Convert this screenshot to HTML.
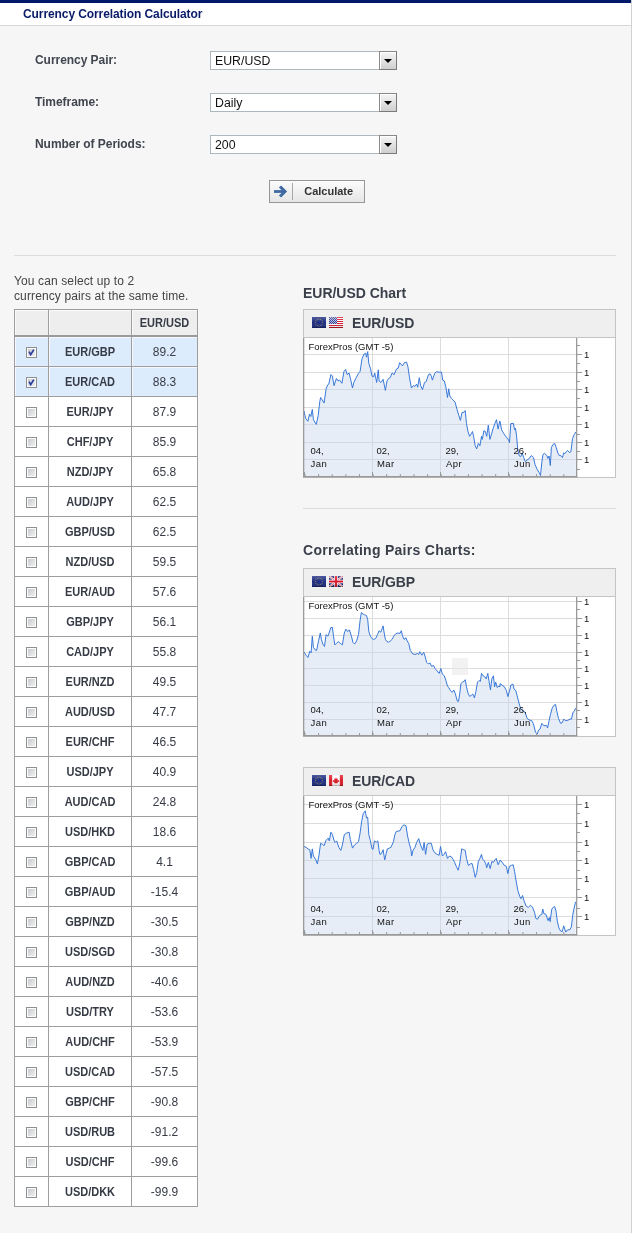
<!DOCTYPE html>
<html><head><meta charset="utf-8"><title>Currency Correlation Calculator</title>
<style>
html,body{margin:0;padding:0}
body{width:632px;height:1233px;background:#f6f6f6;position:relative;overflow:hidden;font-family:"Liberation Sans",Arial,sans-serif;font-size:12px;color:#333}
.abs{position:absolute}
.topbar{position:absolute;left:0;top:0;width:632px;height:3px;background:#02186a}
.hdr{position:absolute;left:0;top:3px;width:632px;height:22px;background:#fff;border-bottom:1px solid #d6d6d6}
.title{position:absolute;left:23px;top:7px;font-weight:bold;font-size:12px;line-height:14px;color:#0a1c68;white-space:nowrap;letter-spacing:-0.09px}
.lbl{position:absolute;left:35px;font-weight:bold;font-size:12px;line-height:14px;color:#40454f;white-space:nowrap;letter-spacing:-0.05px}
.sel{position:absolute;left:210px;width:185px;height:17px;border:1px solid #abb8be;background:#fff;font-size:12.3px;line-height:16px;color:#111}
.sel span{position:absolute;left:4px;top:0.5px}
.sel i{position:absolute;right:-1px;top:-1px;width:16px;height:17px;border:1px solid #7a7a7a;border-top-color:#8a8a8a;border-left-color:#8a8a8a;background:linear-gradient(#f6f6f6,#cfcfcf);box-shadow:inset 1px 1px 0 #fff}
.sel i:after{content:"";position:absolute;left:4.1px;top:7.3px;border:4.1px solid transparent;border-top:4.8px solid #000;border-bottom:0}
.btn{position:absolute;left:269px;top:180px;width:94px;height:21px;border:1px solid #979797;background:linear-gradient(#fbfbfb,#e6e6e6);}
.btn b{position:absolute;left:34.2px;top:4px;font-size:11px;line-height:13px;color:#333;white-space:nowrap}
.btn u{position:absolute;left:22px;top:2px;width:1px;height:17px;background:#a8a8a8}
.hr{position:absolute;height:1px;background:#dcdcdc}
.intro{position:absolute;left:14px;top:274px;font-size:12px;line-height:14.5px;color:#444;white-space:nowrap;letter-spacing:0.12px}
.h2{position:absolute;left:303px;font-weight:bold;font-size:14px;line-height:16px;color:#3a3f4a;white-space:nowrap}
table.t{position:absolute;left:14px;top:309px;border-collapse:collapse;table-layout:fixed;width:184px}
table.t td{border:1px solid #9e9e9e;height:29px;padding:0;text-align:center;vertical-align:middle;background:#fff;font-size:12px;color:#363b45;box-shadow:inset 1px 1px 0 rgba(255,255,255,.7)}
table.t tr.h td{height:25px;background:#eee;border-bottom:2px solid #9a9a9a;font-weight:bold;font-size:11px}
table.t td.p{font-weight:bold;font-size:11px}
table.t tr.s td{background:#ddecfd}
.cb{display:inline-block;width:9px;height:9px;border:1px solid #8e8f8f;background:linear-gradient(135deg,#c2c6cc,#f4f4f4);box-shadow:inset 0 0 0 1px #fcfcfc;position:relative;vertical-align:middle;top:0px;left:0px}
.cb svg{position:absolute;left:0;top:0}
table.t td span.x{display:inline-block;transform:scaleY(1.1);position:relative;top:0.6px}
.cbox{position:absolute;left:303px;width:311px;height:167px;border:1px solid #c4c4c4;background:#fff}
.chead{height:27px;background:#efefef;border-bottom:1px solid #c4c4c4}
.ctitle{position:absolute;left:352px;letter-spacing:-0.12px;font-weight:bold;font-size:14px;line-height:16px;color:#3a3f4a;white-space:nowrap}
.ct{font-family:"Liberation Sans",Arial,sans-serif;font-size:9.5px;fill:#111}
</style></head><body>
<svg width="0" height="0" style="position:absolute"><defs><linearGradient id="sh" x1="0" y1="0" x2="0" y2="1"><stop offset="0" stop-color="#fff" stop-opacity="0.22"/><stop offset="0.5" stop-color="#fff" stop-opacity="0.02"/><stop offset="1" stop-color="#000" stop-opacity="0.18"/></linearGradient></defs></svg>
<div class="topbar"></div><div class="hdr"></div>
<div class="title">Currency Correlation Calculator</div>
<div class="lbl" style="top:53px">Currency Pair:</div>
<div class="lbl" style="top:95px">Timeframe:</div>
<div class="lbl" style="top:137px">Number of Periods:</div>
<div class="sel" style="top:51px"><span>EUR/USD</span><i></i></div>
<div class="sel" style="top:93px"><span>Daily</span><i></i></div>
<div class="sel" style="top:135px"><span>200</span><i></i></div>
<div class="btn"><svg class="abs" style="left:3px;top:3px" width="16" height="16" viewBox="0 0 16 16"><path d="M1 7.5H11" fill="none" stroke="#3f6aa3" stroke-width="2.8"/><path d="M7 2.5L12 7.5L7 12.5" fill="none" stroke="#3f6aa3" stroke-width="3"/></svg><u></u><b>Calculate</b></div>
<div class="hr" style="left:14px;top:255px;width:602px"></div>
<div class="abs" style="left:631px;top:0;width:1px;height:1233px;background:#d2d2d2"></div>
<div class="intro">You can select up to 2<br>currency pairs at the same time.</div>
<div class="h2" style="top:285px;letter-spacing:-0.03px">EUR/USD Chart</div>
<div class="hr" style="left:303px;top:508px;width:313px"></div>
<div class="h2" style="top:542px;letter-spacing:0.28px">Correlating Pairs Charts:</div>

<table class="t"><colgroup><col style="width:34px"><col style="width:83px"><col style="width:66px"></colgroup>
<tr class="h"><td></td><td></td><td><span class="x">EUR/USD</span></td></tr>
<tr class=s><td><span class="cb"><svg width="9" height="9" viewBox="0 0 9 9"><path d="M2 3.6L3.7 6.6L6.8 1.6" fill="none" stroke="#2b3c9c" stroke-width="1.7"/></svg></span></td><td class="p"><span class="x">EUR/GBP</span></td><td><span class="x">89.2</span></td></tr>
<tr class=s><td><span class="cb"><svg width="9" height="9" viewBox="0 0 9 9"><path d="M2 3.6L3.7 6.6L6.8 1.6" fill="none" stroke="#2b3c9c" stroke-width="1.7"/></svg></span></td><td class="p"><span class="x">EUR/CAD</span></td><td><span class="x">88.3</span></td></tr>
<tr><td><span class="cb"></span></td><td class="p"><span class="x">EUR/JPY</span></td><td><span class="x">87.9</span></td></tr>
<tr><td><span class="cb"></span></td><td class="p"><span class="x">CHF/JPY</span></td><td><span class="x">85.9</span></td></tr>
<tr><td><span class="cb"></span></td><td class="p"><span class="x">NZD/JPY</span></td><td><span class="x">65.8</span></td></tr>
<tr><td><span class="cb"></span></td><td class="p"><span class="x">AUD/JPY</span></td><td><span class="x">62.5</span></td></tr>
<tr><td><span class="cb"></span></td><td class="p"><span class="x">GBP/USD</span></td><td><span class="x">62.5</span></td></tr>
<tr><td><span class="cb"></span></td><td class="p"><span class="x">NZD/USD</span></td><td><span class="x">59.5</span></td></tr>
<tr><td><span class="cb"></span></td><td class="p"><span class="x">EUR/AUD</span></td><td><span class="x">57.6</span></td></tr>
<tr><td><span class="cb"></span></td><td class="p"><span class="x">GBP/JPY</span></td><td><span class="x">56.1</span></td></tr>
<tr><td><span class="cb"></span></td><td class="p"><span class="x">CAD/JPY</span></td><td><span class="x">55.8</span></td></tr>
<tr><td><span class="cb"></span></td><td class="p"><span class="x">EUR/NZD</span></td><td><span class="x">49.5</span></td></tr>
<tr><td><span class="cb"></span></td><td class="p"><span class="x">AUD/USD</span></td><td><span class="x">47.7</span></td></tr>
<tr><td><span class="cb"></span></td><td class="p"><span class="x">EUR/CHF</span></td><td><span class="x">46.5</span></td></tr>
<tr><td><span class="cb"></span></td><td class="p"><span class="x">USD/JPY</span></td><td><span class="x">40.9</span></td></tr>
<tr><td><span class="cb"></span></td><td class="p"><span class="x">AUD/CAD</span></td><td><span class="x">24.8</span></td></tr>
<tr><td><span class="cb"></span></td><td class="p"><span class="x">USD/HKD</span></td><td><span class="x">18.6</span></td></tr>
<tr><td><span class="cb"></span></td><td class="p"><span class="x">GBP/CAD</span></td><td><span class="x">4.1</span></td></tr>
<tr><td><span class="cb"></span></td><td class="p"><span class="x">GBP/AUD</span></td><td><span class="x">-15.4</span></td></tr>
<tr><td><span class="cb"></span></td><td class="p"><span class="x">GBP/NZD</span></td><td><span class="x">-30.5</span></td></tr>
<tr><td><span class="cb"></span></td><td class="p"><span class="x">USD/SGD</span></td><td><span class="x">-30.8</span></td></tr>
<tr><td><span class="cb"></span></td><td class="p"><span class="x">AUD/NZD</span></td><td><span class="x">-40.6</span></td></tr>
<tr><td><span class="cb"></span></td><td class="p"><span class="x">USD/TRY</span></td><td><span class="x">-53.6</span></td></tr>
<tr><td><span class="cb"></span></td><td class="p"><span class="x">AUD/CHF</span></td><td><span class="x">-53.9</span></td></tr>
<tr><td><span class="cb"></span></td><td class="p"><span class="x">USD/CAD</span></td><td><span class="x">-57.5</span></td></tr>
<tr><td><span class="cb"></span></td><td class="p"><span class="x">GBP/CHF</span></td><td><span class="x">-90.8</span></td></tr>
<tr><td><span class="cb"></span></td><td class="p"><span class="x">USD/RUB</span></td><td><span class="x">-91.2</span></td></tr>
<tr><td><span class="cb"></span></td><td class="p"><span class="x">USD/CHF</span></td><td><span class="x">-99.6</span></td></tr>
<tr><td><span class="cb"></span></td><td class="p"><span class="x">USD/DKK</span></td><td><span class="x">-99.9</span></td></tr>
</table>
<div class="cbox" style="top:309px"><div class="chead"></div></div>
<svg class="abs" style="left:312px;top:317px" width="14" height="11" viewBox="0 0 14 11"><rect width="14" height="11" fill="#1c2b82"/><g fill="#cdb93c"><circle cx="7.00" cy="2.00" r="0.48"/><circle cx="8.75" cy="2.47" r="0.48"/><circle cx="10.03" cy="3.75" r="0.48"/><circle cx="10.50" cy="5.50" r="0.48"/><circle cx="10.03" cy="7.25" r="0.48"/><circle cx="8.75" cy="8.53" r="0.48"/><circle cx="7.00" cy="9.00" r="0.48"/><circle cx="5.25" cy="8.53" r="0.48"/><circle cx="3.97" cy="7.25" r="0.48"/><circle cx="3.50" cy="5.50" r="0.48"/><circle cx="3.97" cy="3.75" r="0.48"/><circle cx="5.25" cy="2.47" r="0.48"/></g><rect width="14" height="11" fill="url(#sh)"/><rect y="10.3" width="14" height="0.7" fill="#000" fill-opacity="0.22"/></svg>
<svg class="abs" style="left:329px;top:317px" width="14" height="11" viewBox="0 0 14 11"><rect width="14" height="11" fill="#fff"/><g fill="#d6182c"><rect y="0" width="14" height="1"/><rect y="2" width="14" height="1"/><rect y="4" width="14" height="1"/><rect y="6" width="14" height="1"/><rect y="8" width="14" height="1"/><rect y="10" width="14" height="1"/></g><rect width="8" height="7" fill="#2c3a8c"/><g fill="#c9cfee" fill-opacity="0.85"><rect x="1" y="0" width="1" height="1"/><rect x="3" y="0" width="1" height="1"/><rect x="5" y="0" width="1" height="1"/><rect x="7" y="0" width="1" height="1"/><rect x="0" y="1" width="1" height="1"/><rect x="2" y="1" width="1" height="1"/><rect x="4" y="1" width="1" height="1"/><rect x="6" y="1" width="1" height="1"/><rect x="1" y="2" width="1" height="1"/><rect x="3" y="2" width="1" height="1"/><rect x="5" y="2" width="1" height="1"/><rect x="7" y="2" width="1" height="1"/><rect x="0" y="3" width="1" height="1"/><rect x="2" y="3" width="1" height="1"/><rect x="4" y="3" width="1" height="1"/><rect x="6" y="3" width="1" height="1"/><rect x="1" y="4" width="1" height="1"/><rect x="3" y="4" width="1" height="1"/><rect x="5" y="4" width="1" height="1"/><rect x="7" y="4" width="1" height="1"/><rect x="0" y="5" width="1" height="1"/><rect x="2" y="5" width="1" height="1"/><rect x="4" y="5" width="1" height="1"/><rect x="6" y="5" width="1" height="1"/><rect x="1" y="6" width="1" height="1"/><rect x="3" y="6" width="1" height="1"/><rect x="5" y="6" width="1" height="1"/><rect x="7" y="6" width="1" height="1"/></g><rect width="14" height="11" fill="url(#sh)"/><rect y="10.3" width="14" height="0.7" fill="#000" fill-opacity="0.22"/></svg>
<div class="ctitle" style="top:315px">EUR/USD</div>
<svg class="abs" style="left:303px;top:338px" width="313" height="141" viewBox="303 338 313 141"><rect x="304" y="354" width="272" height="1" fill="#dcdcdc"/><rect x="304" y="372" width="272" height="1" fill="#dcdcdc"/><rect x="304" y="389" width="272" height="1" fill="#dcdcdc"/><rect x="304" y="407" width="272" height="1" fill="#dcdcdc"/><rect x="304" y="424" width="272" height="1" fill="#dcdcdc"/><rect x="304" y="442" width="272" height="1" fill="#dcdcdc"/><rect x="304" y="459" width="272" height="1" fill="#dcdcdc"/><rect x="372" y="338" width="1" height="138" fill="#dcdcdc"/><rect x="440" y="338" width="1" height="138" fill="#dcdcdc"/><rect x="508" y="338" width="1" height="138" fill="#dcdcdc"/><path d="M304.0 410.9 L305.5 418.1 L307.9 421.2 L309.5 414.1 L310.8 416.5 L312.3 409.4 L313.4 419.7 L316.3 424.4 L318.2 415.7 L319.8 401.5 L320.6 397.5 L322.2 399.9 L324.1 403.0 L326.1 388.8 L327.7 384.8 L328.8 384.1 L330.9 374.6 L332.4 376.1 L334.0 385.6 L336.4 378.5 L338.0 380.9 L339.6 380.1 L341.9 383.3 L344.0 371.4 L345.6 369.5 L347.2 374.6 L349.1 373.0 L350.6 379.3 L352.5 388.0 L353.8 382.5 L356.2 377.7 L358.2 373.8 L360.1 371.4 L362.0 358.7 L364.1 354.0 L365.7 353.2 L366.5 357.2 L367.7 351.6 L368.8 363.5 L370.4 368.2 L372.0 376.1 L373.6 376.9 L374.7 373.0 L376.7 382.5 L378.3 369.8 L379.1 380.9 L381.0 382.5 L383.1 379.3 L385.4 390.4 L387.0 380.9 L388.6 378.5 L390.2 377.7 L392.1 373.0 L394.1 374.6 L396.5 369.0 L398.1 368.2 L399.7 362.7 L402.4 365.9 L404.4 362.7 L406.6 362.2 L407.9 366.6 L409.5 377.7 L411.4 388.0 L413.4 385.6 L415.0 386.4 L416.6 384.1 L417.7 387.2 L419.3 377.7 L420.6 385.6 L422.5 389.6 L424.5 382.5 L426.1 381.7 L428.5 374.6 L430.1 373.8 L431.3 376.1 L432.4 380.1 L434.5 373.8 L436.4 371.7 L438.8 372.2 L441.5 372.2 L442.7 380.1 L444.3 380.9 L445.9 387.2 L447.5 397.5 L448.7 388.8 L449.8 395.9 L451.4 398.3 L453.0 399.9 L455.1 402.2 L457.0 409.4 L458.9 415.7 L460.4 420.4 L462.0 412.5 L464.1 412.2 L465.2 410.6 L466.5 423.6 L468.0 431.5 L469.6 436.3 L471.2 433.9 L472.5 431.5 L473.6 436.3 L475.2 445.8 L476.7 448.9 L478.3 443.4 L479.9 445.8 L481.5 436.3 L482.3 439.4 L483.9 430.7 L485.4 431.5 L486.7 436.3 L488.3 425.2 L489.9 439.4 L491.8 433.1 L493.4 427.6 L494.9 423.6 L496.5 419.7 L498.1 429.1 L499.7 421.2 L500.0 421.2 L501.6 429.9 L504.0 433.9 L506.3 437.1 L508.7 440.2 L509.5 442.6 L510.8 423.6 L513.4 423.3 L514.6 429.9 L515.5 428.4 L516.6 436.3 L517.7 448.9 L519.3 456.0 L520.6 456.8 L522.2 452.9 L523.7 457.6 L525.3 461.6 L527.2 460.0 L529.3 458.4 L531.3 455.6 L533.5 457.6 L535.1 464.7 L537.2 469.5 L539.2 472.7 L540.5 475.5 L541.9 461.6 L543.0 454.5 L544.6 453.4 L546.7 455.3 L547.9 458.4 L549.1 456.0 L550.3 465.5 L551.4 447.3 L553.0 444.5 L554.6 443.4 L556.2 447.3 L557.8 452.9 L559.3 455.6 L560.9 455.6 L562.5 457.6 L563.6 452.9 L564.9 453.7 L566.5 451.3 L567.7 450.5 L569.3 452.4 L570.9 451.8 L572.5 438.6 L574.1 434.7 L575.9 431.8 L575.9 476 L304.0 476 Z" fill="#c5d5ea" fill-opacity="0.42"/><path d="M304.0 410.9 L305.5 418.1 L307.9 421.2 L309.5 414.1 L310.8 416.5 L312.3 409.4 L313.4 419.7 L316.3 424.4 L318.2 415.7 L319.8 401.5 L320.6 397.5 L322.2 399.9 L324.1 403.0 L326.1 388.8 L327.7 384.8 L328.8 384.1 L330.9 374.6 L332.4 376.1 L334.0 385.6 L336.4 378.5 L338.0 380.9 L339.6 380.1 L341.9 383.3 L344.0 371.4 L345.6 369.5 L347.2 374.6 L349.1 373.0 L350.6 379.3 L352.5 388.0 L353.8 382.5 L356.2 377.7 L358.2 373.8 L360.1 371.4 L362.0 358.7 L364.1 354.0 L365.7 353.2 L366.5 357.2 L367.7 351.6 L368.8 363.5 L370.4 368.2 L372.0 376.1 L373.6 376.9 L374.7 373.0 L376.7 382.5 L378.3 369.8 L379.1 380.9 L381.0 382.5 L383.1 379.3 L385.4 390.4 L387.0 380.9 L388.6 378.5 L390.2 377.7 L392.1 373.0 L394.1 374.6 L396.5 369.0 L398.1 368.2 L399.7 362.7 L402.4 365.9 L404.4 362.7 L406.6 362.2 L407.9 366.6 L409.5 377.7 L411.4 388.0 L413.4 385.6 L415.0 386.4 L416.6 384.1 L417.7 387.2 L419.3 377.7 L420.6 385.6 L422.5 389.6 L424.5 382.5 L426.1 381.7 L428.5 374.6 L430.1 373.8 L431.3 376.1 L432.4 380.1 L434.5 373.8 L436.4 371.7 L438.8 372.2 L441.5 372.2 L442.7 380.1 L444.3 380.9 L445.9 387.2 L447.5 397.5 L448.7 388.8 L449.8 395.9 L451.4 398.3 L453.0 399.9 L455.1 402.2 L457.0 409.4 L458.9 415.7 L460.4 420.4 L462.0 412.5 L464.1 412.2 L465.2 410.6 L466.5 423.6 L468.0 431.5 L469.6 436.3 L471.2 433.9 L472.5 431.5 L473.6 436.3 L475.2 445.8 L476.7 448.9 L478.3 443.4 L479.9 445.8 L481.5 436.3 L482.3 439.4 L483.9 430.7 L485.4 431.5 L486.7 436.3 L488.3 425.2 L489.9 439.4 L491.8 433.1 L493.4 427.6 L494.9 423.6 L496.5 419.7 L498.1 429.1 L499.7 421.2 L500.0 421.2 L501.6 429.9 L504.0 433.9 L506.3 437.1 L508.7 440.2 L509.5 442.6 L510.8 423.6 L513.4 423.3 L514.6 429.9 L515.5 428.4 L516.6 436.3 L517.7 448.9 L519.3 456.0 L520.6 456.8 L522.2 452.9 L523.7 457.6 L525.3 461.6 L527.2 460.0 L529.3 458.4 L531.3 455.6 L533.5 457.6 L535.1 464.7 L537.2 469.5 L539.2 472.7 L540.5 475.5 L541.9 461.6 L543.0 454.5 L544.6 453.4 L546.7 455.3 L547.9 458.4 L549.1 456.0 L550.3 465.5 L551.4 447.3 L553.0 444.5 L554.6 443.4 L556.2 447.3 L557.8 452.9 L559.3 455.6 L560.9 455.6 L562.5 457.6 L563.6 452.9 L564.9 453.7 L566.5 451.3 L567.7 450.5 L569.3 452.4 L570.9 451.8 L572.5 438.6 L574.1 434.7 L575.9 431.8" fill="none" stroke="#2f72d6" stroke-width="0.95" stroke-linejoin="round"/><rect x="576" y="338" width="1.3" height="139" fill="#9a9a9a"/><rect x="303" y="338" width="1.3" height="139" fill="#9a9a9a"/><rect x="303" y="476" width="274.3" height="1.5" fill="#9a9a9a"/><rect x="304.5" y="474" width="1" height="2" fill="#9a9a9a"/><rect x="318.1" y="474" width="1" height="2" fill="#9a9a9a"/><rect x="331.7" y="474" width="1" height="2" fill="#9a9a9a"/><rect x="345.4" y="474" width="1" height="2" fill="#9a9a9a"/><rect x="359.0" y="474" width="1" height="2" fill="#9a9a9a"/><rect x="372.6" y="474" width="1" height="2" fill="#9a9a9a"/><rect x="386.2" y="474" width="1" height="2" fill="#9a9a9a"/><rect x="399.8" y="474" width="1" height="2" fill="#9a9a9a"/><rect x="413.5" y="474" width="1" height="2" fill="#9a9a9a"/><rect x="427.1" y="474" width="1" height="2" fill="#9a9a9a"/><rect x="440.7" y="474" width="1" height="2" fill="#9a9a9a"/><rect x="454.3" y="474" width="1" height="2" fill="#9a9a9a"/><rect x="467.9" y="474" width="1" height="2" fill="#9a9a9a"/><rect x="481.6" y="474" width="1" height="2" fill="#9a9a9a"/><rect x="495.2" y="474" width="1" height="2" fill="#9a9a9a"/><rect x="508.8" y="474" width="1" height="2" fill="#9a9a9a"/><rect x="522.4" y="474" width="1" height="2" fill="#9a9a9a"/><rect x="536.0" y="474" width="1" height="2" fill="#9a9a9a"/><rect x="549.7" y="474" width="1" height="2" fill="#9a9a9a"/><rect x="563.3" y="474" width="1" height="2" fill="#9a9a9a"/><rect x="304" y="472" width="1" height="4" fill="#9a9a9a"/><rect x="372" y="472" width="1" height="4" fill="#9a9a9a"/><rect x="440" y="472" width="1" height="4" fill="#9a9a9a"/><rect x="508" y="472" width="1" height="4" fill="#9a9a9a"/><rect x="577" y="354" width="5" height="1" fill="#9a9a9a"/><text x="584" y="357.9" class="ct">1</text><rect x="577" y="372" width="5" height="1" fill="#9a9a9a"/><text x="584" y="375.9" class="ct">1</text><rect x="577" y="389" width="5" height="1" fill="#9a9a9a"/><text x="584" y="392.9" class="ct">1</text><rect x="577" y="407" width="5" height="1" fill="#9a9a9a"/><text x="584" y="410.9" class="ct">1</text><rect x="577" y="424" width="5" height="1" fill="#9a9a9a"/><text x="584" y="427.9" class="ct">1</text><rect x="577" y="442" width="5" height="1" fill="#9a9a9a"/><text x="584" y="445.9" class="ct">1</text><rect x="577" y="459" width="5" height="1" fill="#9a9a9a"/><text x="584" y="462.9" class="ct">1</text><rect x="577" y="345" width="3" height="1" fill="#9a9a9a"/><rect x="577" y="363" width="3" height="1" fill="#9a9a9a"/><rect x="577" y="381" width="3" height="1" fill="#9a9a9a"/><rect x="577" y="398" width="3" height="1" fill="#9a9a9a"/><rect x="577" y="416" width="3" height="1" fill="#9a9a9a"/><rect x="577" y="434" width="3" height="1" fill="#9a9a9a"/><rect x="577" y="451" width="3" height="1" fill="#9a9a9a"/><rect x="577" y="469" width="3" height="1" fill="#9a9a9a"/><text x="308.5" y="349.5" class="ct">ForexPros (GMT -5)</text><text x="310.5" y="453.8" class="ct">04,</text><text x="310.5" y="466.6" class="ct" letter-spacing="0.5">Jan</text><text x="376.5" y="453.8" class="ct">02,</text><text x="376.9" y="466.6" class="ct" letter-spacing="0.5">Mar</text><text x="445.5" y="453.8" class="ct">29,</text><text x="445.9" y="466.6" class="ct" letter-spacing="0.5">Apr</text><text x="513.5" y="453.8" class="ct">26,</text><text x="513.9" y="466.6" class="ct" letter-spacing="0.5">Jun</text></svg>
<div class="cbox" style="top:568px"><div class="chead"></div></div>
<svg class="abs" style="left:312px;top:576px" width="14" height="11" viewBox="0 0 14 11"><rect width="14" height="11" fill="#1c2b82"/><g fill="#cdb93c"><circle cx="7.00" cy="2.00" r="0.48"/><circle cx="8.75" cy="2.47" r="0.48"/><circle cx="10.03" cy="3.75" r="0.48"/><circle cx="10.50" cy="5.50" r="0.48"/><circle cx="10.03" cy="7.25" r="0.48"/><circle cx="8.75" cy="8.53" r="0.48"/><circle cx="7.00" cy="9.00" r="0.48"/><circle cx="5.25" cy="8.53" r="0.48"/><circle cx="3.97" cy="7.25" r="0.48"/><circle cx="3.50" cy="5.50" r="0.48"/><circle cx="3.97" cy="3.75" r="0.48"/><circle cx="5.25" cy="2.47" r="0.48"/></g><rect width="14" height="11" fill="url(#sh)"/><rect y="10.3" width="14" height="0.7" fill="#000" fill-opacity="0.22"/></svg>
<svg class="abs" style="left:329px;top:576px" width="14" height="11" viewBox="0 0 14 11"><rect width="14" height="11" fill="#1c2670"/><path d="M0 0L14 11M14 0L0 11" stroke="#fff" stroke-width="2"/><path d="M0 0L14 11M14 0L0 11" stroke="#d6182c" stroke-width="0.7"/><path d="M7 0V11M0 5.5H14" stroke="#fff" stroke-width="3.6"/><path d="M7 0V11M0 5.5H14" stroke="#d6182c" stroke-width="2.2"/><rect width="14" height="11" fill="url(#sh)"/><rect y="10.3" width="14" height="0.7" fill="#000" fill-opacity="0.22"/></svg>
<div class="ctitle" style="top:574px">EUR/GBP</div>
<svg class="abs" style="left:303px;top:597px" width="313" height="141" viewBox="303 597 313 141"><rect x="304" y="601" width="272" height="1" fill="#dcdcdc"/><rect x="304" y="618" width="272" height="1" fill="#dcdcdc"/><rect x="304" y="635" width="272" height="1" fill="#dcdcdc"/><rect x="304" y="652" width="272" height="1" fill="#dcdcdc"/><rect x="304" y="668" width="272" height="1" fill="#dcdcdc"/><rect x="304" y="685" width="272" height="1" fill="#dcdcdc"/><rect x="304" y="702" width="272" height="1" fill="#dcdcdc"/><rect x="304" y="719" width="272" height="1" fill="#dcdcdc"/><rect x="372" y="597" width="1" height="138" fill="#dcdcdc"/><rect x="440" y="597" width="1" height="138" fill="#dcdcdc"/><rect x="508" y="597" width="1" height="138" fill="#dcdcdc"/><path d="M304.0 652.0 L306.0 655.2 L307.9 657.6 L309.8 651.2 L311.1 652.8 L312.3 636.2 L313.4 647.3 L315.0 649.7 L316.6 650.4 L318.7 640.2 L320.3 633.0 L321.4 639.4 L322.9 644.1 L324.5 646.5 L326.1 634.6 L327.7 636.2 L328.8 633.8 L330.9 627.5 L332.4 627.5 L333.5 636.2 L334.8 644.9 L336.4 643.3 L338.3 641.7 L340.3 643.3 L342.4 644.9 L344.3 633.0 L345.9 629.1 L347.5 631.5 L349.4 629.9 L351.4 636.2 L353.0 642.5 L354.6 644.1 L356.6 640.9 L358.5 634.6 L360.1 620.4 L361.4 612.5 L363.0 614.1 L364.6 614.8 L366.5 615.6 L367.7 619.6 L368.8 631.5 L370.4 636.2 L372.0 638.6 L373.6 639.4 L375.6 638.6 L377.5 634.6 L379.1 630.7 L380.7 632.2 L382.3 628.3 L383.1 625.9 L384.2 633.0 L385.4 639.4 L387.0 641.7 L388.6 642.2 L390.5 640.9 L392.1 639.4 L393.7 636.2 L395.7 633.8 L397.8 633.0 L400.0 633.4 L401.3 630.7 L402.4 635.4 L404.0 639.4 L406.0 637.8 L407.1 640.9 L408.7 643.3 L410.3 650.4 L412.7 653.9 L415.0 654.4 L417.4 653.6 L418.7 654.4 L419.8 651.7 L421.8 655.2 L423.7 652.3 L425.0 656.0 L426.6 662.3 L428.2 663.9 L430.1 663.1 L431.6 666.3 L433.5 665.5 L435.1 668.6 L437.2 671.0 L439.2 673.4 L440.8 668.6 L442.4 674.2 L444.3 675.8 L445.9 680.5 L447.5 686.0 L448.7 687.6 L450.6 690.8 L452.2 692.4 L453.8 690.0 L455.4 694.0 L457.3 701.1 L458.5 701.4 L459.8 693.2 L460.9 683.7 L462.5 682.1 L464.1 681.3 L465.2 679.7 L466.5 686.8 L468.0 693.2 L469.6 696.3 L471.2 695.5 L472.8 694.0 L474.4 697.9 L475.9 691.6 L477.5 682.1 L479.1 680.5 L480.4 681.3 L481.5 673.4 L483.1 675.8 L484.7 676.6 L486.2 678.9 L487.8 673.4 L488.9 680.5 L490.5 690.0 L491.8 678.9 L493.4 675.8 L494.6 686.8 L495.7 682.1 L497.3 687.6 L498.9 686.0 L500.0 686.8 L500.0 683.6 L502.1 685.1 L504.2 686.6 L506.3 690.3 L507.9 696.6 L509.4 691.4 L510.9 685.1 L512.9 684.0 L514.2 689.3 L515.7 690.3 L517.1 695.5 L519.2 703.9 L520.9 709.1 L523.0 711.2 L525.1 712.2 L527.2 718.5 L529.2 720.0 L531.7 720.6 L533.4 723.7 L535.5 732.1 L537.2 734.2 L538.6 730.0 L540.1 729.0 L541.8 723.3 L543.9 725.8 L546.4 725.4 L547.6 727.9 L549.1 720.6 L550.5 714.3 L552.2 708.1 L553.9 705.4 L555.6 704.5 L556.8 711.2 L558.5 718.5 L560.6 723.3 L562.2 722.7 L563.7 719.1 L565.2 720.6 L567.3 720.6 L570.0 719.1 L571.4 719.1 L573.1 712.2 L574.4 711.2 L575.6 708.1 L575.6 735 L304.0 735 Z" fill="#c5d5ea" fill-opacity="0.42"/><rect x="452" y="658" width="16" height="17" fill="#e9e9e9" fill-opacity="0.6"/><path d="M304.0 652.0 L306.0 655.2 L307.9 657.6 L309.8 651.2 L311.1 652.8 L312.3 636.2 L313.4 647.3 L315.0 649.7 L316.6 650.4 L318.7 640.2 L320.3 633.0 L321.4 639.4 L322.9 644.1 L324.5 646.5 L326.1 634.6 L327.7 636.2 L328.8 633.8 L330.9 627.5 L332.4 627.5 L333.5 636.2 L334.8 644.9 L336.4 643.3 L338.3 641.7 L340.3 643.3 L342.4 644.9 L344.3 633.0 L345.9 629.1 L347.5 631.5 L349.4 629.9 L351.4 636.2 L353.0 642.5 L354.6 644.1 L356.6 640.9 L358.5 634.6 L360.1 620.4 L361.4 612.5 L363.0 614.1 L364.6 614.8 L366.5 615.6 L367.7 619.6 L368.8 631.5 L370.4 636.2 L372.0 638.6 L373.6 639.4 L375.6 638.6 L377.5 634.6 L379.1 630.7 L380.7 632.2 L382.3 628.3 L383.1 625.9 L384.2 633.0 L385.4 639.4 L387.0 641.7 L388.6 642.2 L390.5 640.9 L392.1 639.4 L393.7 636.2 L395.7 633.8 L397.8 633.0 L400.0 633.4 L401.3 630.7 L402.4 635.4 L404.0 639.4 L406.0 637.8 L407.1 640.9 L408.7 643.3 L410.3 650.4 L412.7 653.9 L415.0 654.4 L417.4 653.6 L418.7 654.4 L419.8 651.7 L421.8 655.2 L423.7 652.3 L425.0 656.0 L426.6 662.3 L428.2 663.9 L430.1 663.1 L431.6 666.3 L433.5 665.5 L435.1 668.6 L437.2 671.0 L439.2 673.4 L440.8 668.6 L442.4 674.2 L444.3 675.8 L445.9 680.5 L447.5 686.0 L448.7 687.6 L450.6 690.8 L452.2 692.4 L453.8 690.0 L455.4 694.0 L457.3 701.1 L458.5 701.4 L459.8 693.2 L460.9 683.7 L462.5 682.1 L464.1 681.3 L465.2 679.7 L466.5 686.8 L468.0 693.2 L469.6 696.3 L471.2 695.5 L472.8 694.0 L474.4 697.9 L475.9 691.6 L477.5 682.1 L479.1 680.5 L480.4 681.3 L481.5 673.4 L483.1 675.8 L484.7 676.6 L486.2 678.9 L487.8 673.4 L488.9 680.5 L490.5 690.0 L491.8 678.9 L493.4 675.8 L494.6 686.8 L495.7 682.1 L497.3 687.6 L498.9 686.0 L500.0 686.8 L500.0 683.6 L502.1 685.1 L504.2 686.6 L506.3 690.3 L507.9 696.6 L509.4 691.4 L510.9 685.1 L512.9 684.0 L514.2 689.3 L515.7 690.3 L517.1 695.5 L519.2 703.9 L520.9 709.1 L523.0 711.2 L525.1 712.2 L527.2 718.5 L529.2 720.0 L531.7 720.6 L533.4 723.7 L535.5 732.1 L537.2 734.2 L538.6 730.0 L540.1 729.0 L541.8 723.3 L543.9 725.8 L546.4 725.4 L547.6 727.9 L549.1 720.6 L550.5 714.3 L552.2 708.1 L553.9 705.4 L555.6 704.5 L556.8 711.2 L558.5 718.5 L560.6 723.3 L562.2 722.7 L563.7 719.1 L565.2 720.6 L567.3 720.6 L570.0 719.1 L571.4 719.1 L573.1 712.2 L574.4 711.2 L575.6 708.1" fill="none" stroke="#2f72d6" stroke-width="0.95" stroke-linejoin="round"/><rect x="576" y="597" width="1.3" height="139" fill="#9a9a9a"/><rect x="303" y="597" width="1.3" height="139" fill="#9a9a9a"/><rect x="303" y="735" width="274.3" height="1.5" fill="#9a9a9a"/><rect x="304.5" y="733" width="1" height="2" fill="#9a9a9a"/><rect x="318.1" y="733" width="1" height="2" fill="#9a9a9a"/><rect x="331.7" y="733" width="1" height="2" fill="#9a9a9a"/><rect x="345.4" y="733" width="1" height="2" fill="#9a9a9a"/><rect x="359.0" y="733" width="1" height="2" fill="#9a9a9a"/><rect x="372.6" y="733" width="1" height="2" fill="#9a9a9a"/><rect x="386.2" y="733" width="1" height="2" fill="#9a9a9a"/><rect x="399.8" y="733" width="1" height="2" fill="#9a9a9a"/><rect x="413.5" y="733" width="1" height="2" fill="#9a9a9a"/><rect x="427.1" y="733" width="1" height="2" fill="#9a9a9a"/><rect x="440.7" y="733" width="1" height="2" fill="#9a9a9a"/><rect x="454.3" y="733" width="1" height="2" fill="#9a9a9a"/><rect x="467.9" y="733" width="1" height="2" fill="#9a9a9a"/><rect x="481.6" y="733" width="1" height="2" fill="#9a9a9a"/><rect x="495.2" y="733" width="1" height="2" fill="#9a9a9a"/><rect x="508.8" y="733" width="1" height="2" fill="#9a9a9a"/><rect x="522.4" y="733" width="1" height="2" fill="#9a9a9a"/><rect x="536.0" y="733" width="1" height="2" fill="#9a9a9a"/><rect x="549.7" y="733" width="1" height="2" fill="#9a9a9a"/><rect x="563.3" y="733" width="1" height="2" fill="#9a9a9a"/><rect x="304" y="731" width="1" height="4" fill="#9a9a9a"/><rect x="372" y="731" width="1" height="4" fill="#9a9a9a"/><rect x="440" y="731" width="1" height="4" fill="#9a9a9a"/><rect x="508" y="731" width="1" height="4" fill="#9a9a9a"/><rect x="577" y="601" width="5" height="1" fill="#9a9a9a"/><text x="584" y="604.9" class="ct">1</text><rect x="577" y="618" width="5" height="1" fill="#9a9a9a"/><text x="584" y="621.9" class="ct">1</text><rect x="577" y="635" width="5" height="1" fill="#9a9a9a"/><text x="584" y="638.9" class="ct">1</text><rect x="577" y="652" width="5" height="1" fill="#9a9a9a"/><text x="584" y="655.9" class="ct">1</text><rect x="577" y="668" width="5" height="1" fill="#9a9a9a"/><text x="584" y="671.9" class="ct">1</text><rect x="577" y="685" width="5" height="1" fill="#9a9a9a"/><text x="584" y="688.9" class="ct">1</text><rect x="577" y="702" width="5" height="1" fill="#9a9a9a"/><text x="584" y="705.9" class="ct">1</text><rect x="577" y="719" width="5" height="1" fill="#9a9a9a"/><text x="584" y="722.9" class="ct">1</text><rect x="577" y="609" width="3" height="1" fill="#9a9a9a"/><rect x="577" y="626" width="3" height="1" fill="#9a9a9a"/><rect x="577" y="643" width="3" height="1" fill="#9a9a9a"/><rect x="577" y="660" width="3" height="1" fill="#9a9a9a"/><rect x="577" y="677" width="3" height="1" fill="#9a9a9a"/><rect x="577" y="693" width="3" height="1" fill="#9a9a9a"/><rect x="577" y="710" width="3" height="1" fill="#9a9a9a"/><rect x="577" y="727" width="3" height="1" fill="#9a9a9a"/><text x="308.5" y="608.5" class="ct">ForexPros (GMT -5)</text><text x="310.5" y="712.8" class="ct">04,</text><text x="310.5" y="725.6" class="ct" letter-spacing="0.5">Jan</text><text x="376.5" y="712.8" class="ct">02,</text><text x="376.9" y="725.6" class="ct" letter-spacing="0.5">Mar</text><text x="445.5" y="712.8" class="ct">29,</text><text x="445.9" y="725.6" class="ct" letter-spacing="0.5">Apr</text><text x="513.5" y="712.8" class="ct">26,</text><text x="513.9" y="725.6" class="ct" letter-spacing="0.5">Jun</text></svg>
<div class="cbox" style="top:767px"><div class="chead"></div></div>
<svg class="abs" style="left:312px;top:775px" width="14" height="11" viewBox="0 0 14 11"><rect width="14" height="11" fill="#1c2b82"/><g fill="#cdb93c"><circle cx="7.00" cy="2.00" r="0.48"/><circle cx="8.75" cy="2.47" r="0.48"/><circle cx="10.03" cy="3.75" r="0.48"/><circle cx="10.50" cy="5.50" r="0.48"/><circle cx="10.03" cy="7.25" r="0.48"/><circle cx="8.75" cy="8.53" r="0.48"/><circle cx="7.00" cy="9.00" r="0.48"/><circle cx="5.25" cy="8.53" r="0.48"/><circle cx="3.97" cy="7.25" r="0.48"/><circle cx="3.50" cy="5.50" r="0.48"/><circle cx="3.97" cy="3.75" r="0.48"/><circle cx="5.25" cy="2.47" r="0.48"/></g><rect width="14" height="11" fill="url(#sh)"/><rect y="10.3" width="14" height="0.7" fill="#000" fill-opacity="0.22"/></svg>
<svg class="abs" style="left:329px;top:775px" width="14" height="11" viewBox="0 0 14 11"><rect width="14" height="11" fill="#fff"/><rect width="3.2" height="11" fill="#dc1c28"/><rect x="10.8" width="3.2" height="11" fill="#dc1c28"/><path d="M7 2.2L7.9 4L8.9 3.5L8.6 5.4L10 4.9L9.8 5.8L10.5 6.2L8.6 7.6L8.8 8.3L7.3 8.1V9.3H6.7V8.1L5.2 8.3L5.4 7.6L3.5 6.2L4.2 5.8L4 4.9L5.4 5.4L5.1 3.5L6.1 4Z" fill="#dc1c28"/><rect width="14" height="11" fill="url(#sh)"/><rect y="10.3" width="14" height="0.7" fill="#000" fill-opacity="0.22"/></svg>
<div class="ctitle" style="top:773px">EUR/CAD</div>
<svg class="abs" style="left:303px;top:796px" width="313" height="141" viewBox="303 796 313 141"><rect x="304" y="804" width="272" height="1" fill="#dcdcdc"/><rect x="304" y="823" width="272" height="1" fill="#dcdcdc"/><rect x="304" y="842" width="272" height="1" fill="#dcdcdc"/><rect x="304" y="860" width="272" height="1" fill="#dcdcdc"/><rect x="304" y="878" width="272" height="1" fill="#dcdcdc"/><rect x="304" y="897" width="272" height="1" fill="#dcdcdc"/><rect x="304" y="916" width="272" height="1" fill="#dcdcdc"/><rect x="372" y="796" width="1" height="138" fill="#dcdcdc"/><rect x="440" y="796" width="1" height="138" fill="#dcdcdc"/><rect x="508" y="796" width="1" height="138" fill="#dcdcdc"/><path d="M304.0 846.5 L306.0 847.3 L307.9 848.9 L309.8 849.7 L311.1 858.4 L312.3 848.9 L313.4 856.0 L315.5 859.1 L317.4 863.9 L319.0 855.2 L320.6 843.3 L322.2 844.1 L324.1 845.7 L326.1 840.2 L328.2 838.1 L329.3 840.9 L330.9 832.2 L332.4 834.6 L334.0 840.2 L335.1 842.5 L336.7 840.9 L338.8 847.3 L340.8 850.4 L342.4 844.9 L344.3 834.6 L346.7 833.0 L349.1 832.2 L350.3 839.4 L352.5 848.1 L354.6 844.9 L356.6 843.3 L358.5 841.7 L360.1 833.0 L361.7 821.2 L363.3 813.3 L365.2 810.9 L366.5 818.0 L367.7 817.2 L368.8 834.6 L370.4 840.9 L372.0 848.9 L373.1 849.2 L374.4 840.9 L376.3 842.2 L377.8 840.9 L379.1 850.4 L379.9 854.4 L381.5 853.6 L383.1 849.7 L384.7 859.9 L386.2 853.6 L387.3 848.9 L389.4 848.1 L391.0 847.3 L393.4 841.7 L394.9 834.6 L396.2 831.5 L398.1 831.1 L400.0 830.7 L401.9 826.7 L404.0 824.8 L406.0 825.9 L407.6 836.2 L409.2 843.3 L410.8 848.9 L411.7 856.0 L413.0 850.4 L415.0 847.3 L416.6 842.5 L418.7 838.6 L420.3 844.1 L421.8 848.1 L422.9 850.4 L424.1 842.5 L425.6 854.4 L427.2 844.1 L429.3 843.3 L431.3 843.3 L432.9 849.7 L434.8 852.8 L437.2 854.4 L439.2 855.2 L440.5 846.5 L442.4 856.0 L444.0 854.4 L445.6 851.7 L447.5 858.4 L449.4 856.0 L451.4 856.8 L453.0 859.1 L454.6 862.3 L456.6 867.1 L458.2 870.2 L459.8 863.1 L461.7 848.9 L463.6 849.7 L465.2 850.4 L466.5 858.4 L468.4 865.5 L470.4 863.9 L472.0 863.4 L473.6 869.4 L475.2 877.3 L476.7 872.6 L478.3 861.5 L479.9 858.4 L481.5 854.4 L482.6 859.1 L484.2 860.7 L485.8 863.9 L486.7 867.8 L488.3 862.3 L490.2 868.6 L491.8 861.5 L493.4 862.3 L494.9 859.9 L496.2 858.4 L498.1 864.7 L500.0 860.7 L500.0 860.0 L502.1 862.1 L504.2 865.3 L506.3 866.3 L507.9 873.6 L509.4 866.3 L511.5 865.3 L513.2 864.8 L514.6 871.5 L516.3 882.0 L517.8 890.3 L519.8 896.6 L520.9 898.7 L522.6 895.5 L524.0 900.8 L526.1 906.0 L528.2 907.4 L530.3 905.4 L532.4 907.0 L534.5 912.2 L535.9 918.5 L537.6 919.1 L539.7 915.4 L541.8 914.3 L542.8 909.1 L543.9 913.7 L545.9 914.3 L548.0 920.6 L549.3 917.5 L550.1 921.6 L551.8 909.1 L553.5 907.0 L554.7 906.6 L556.0 911.2 L557.4 921.6 L558.9 927.9 L560.6 931.0 L562.2 931.7 L563.7 925.8 L565.8 932.1 L567.3 930.0 L570.0 929.6 L571.4 926.9 L572.7 915.4 L574.1 908.1 L575.6 901.8 L575.6 934 L304.0 934 Z" fill="#c5d5ea" fill-opacity="0.42"/><path d="M304.0 846.5 L306.0 847.3 L307.9 848.9 L309.8 849.7 L311.1 858.4 L312.3 848.9 L313.4 856.0 L315.5 859.1 L317.4 863.9 L319.0 855.2 L320.6 843.3 L322.2 844.1 L324.1 845.7 L326.1 840.2 L328.2 838.1 L329.3 840.9 L330.9 832.2 L332.4 834.6 L334.0 840.2 L335.1 842.5 L336.7 840.9 L338.8 847.3 L340.8 850.4 L342.4 844.9 L344.3 834.6 L346.7 833.0 L349.1 832.2 L350.3 839.4 L352.5 848.1 L354.6 844.9 L356.6 843.3 L358.5 841.7 L360.1 833.0 L361.7 821.2 L363.3 813.3 L365.2 810.9 L366.5 818.0 L367.7 817.2 L368.8 834.6 L370.4 840.9 L372.0 848.9 L373.1 849.2 L374.4 840.9 L376.3 842.2 L377.8 840.9 L379.1 850.4 L379.9 854.4 L381.5 853.6 L383.1 849.7 L384.7 859.9 L386.2 853.6 L387.3 848.9 L389.4 848.1 L391.0 847.3 L393.4 841.7 L394.9 834.6 L396.2 831.5 L398.1 831.1 L400.0 830.7 L401.9 826.7 L404.0 824.8 L406.0 825.9 L407.6 836.2 L409.2 843.3 L410.8 848.9 L411.7 856.0 L413.0 850.4 L415.0 847.3 L416.6 842.5 L418.7 838.6 L420.3 844.1 L421.8 848.1 L422.9 850.4 L424.1 842.5 L425.6 854.4 L427.2 844.1 L429.3 843.3 L431.3 843.3 L432.9 849.7 L434.8 852.8 L437.2 854.4 L439.2 855.2 L440.5 846.5 L442.4 856.0 L444.0 854.4 L445.6 851.7 L447.5 858.4 L449.4 856.0 L451.4 856.8 L453.0 859.1 L454.6 862.3 L456.6 867.1 L458.2 870.2 L459.8 863.1 L461.7 848.9 L463.6 849.7 L465.2 850.4 L466.5 858.4 L468.4 865.5 L470.4 863.9 L472.0 863.4 L473.6 869.4 L475.2 877.3 L476.7 872.6 L478.3 861.5 L479.9 858.4 L481.5 854.4 L482.6 859.1 L484.2 860.7 L485.8 863.9 L486.7 867.8 L488.3 862.3 L490.2 868.6 L491.8 861.5 L493.4 862.3 L494.9 859.9 L496.2 858.4 L498.1 864.7 L500.0 860.7 L500.0 860.0 L502.1 862.1 L504.2 865.3 L506.3 866.3 L507.9 873.6 L509.4 866.3 L511.5 865.3 L513.2 864.8 L514.6 871.5 L516.3 882.0 L517.8 890.3 L519.8 896.6 L520.9 898.7 L522.6 895.5 L524.0 900.8 L526.1 906.0 L528.2 907.4 L530.3 905.4 L532.4 907.0 L534.5 912.2 L535.9 918.5 L537.6 919.1 L539.7 915.4 L541.8 914.3 L542.8 909.1 L543.9 913.7 L545.9 914.3 L548.0 920.6 L549.3 917.5 L550.1 921.6 L551.8 909.1 L553.5 907.0 L554.7 906.6 L556.0 911.2 L557.4 921.6 L558.9 927.9 L560.6 931.0 L562.2 931.7 L563.7 925.8 L565.8 932.1 L567.3 930.0 L570.0 929.6 L571.4 926.9 L572.7 915.4 L574.1 908.1 L575.6 901.8" fill="none" stroke="#2f72d6" stroke-width="0.95" stroke-linejoin="round"/><rect x="576" y="796" width="1.3" height="139" fill="#9a9a9a"/><rect x="303" y="796" width="1.3" height="139" fill="#9a9a9a"/><rect x="303" y="934" width="274.3" height="1.5" fill="#9a9a9a"/><rect x="304.5" y="932" width="1" height="2" fill="#9a9a9a"/><rect x="318.1" y="932" width="1" height="2" fill="#9a9a9a"/><rect x="331.7" y="932" width="1" height="2" fill="#9a9a9a"/><rect x="345.4" y="932" width="1" height="2" fill="#9a9a9a"/><rect x="359.0" y="932" width="1" height="2" fill="#9a9a9a"/><rect x="372.6" y="932" width="1" height="2" fill="#9a9a9a"/><rect x="386.2" y="932" width="1" height="2" fill="#9a9a9a"/><rect x="399.8" y="932" width="1" height="2" fill="#9a9a9a"/><rect x="413.5" y="932" width="1" height="2" fill="#9a9a9a"/><rect x="427.1" y="932" width="1" height="2" fill="#9a9a9a"/><rect x="440.7" y="932" width="1" height="2" fill="#9a9a9a"/><rect x="454.3" y="932" width="1" height="2" fill="#9a9a9a"/><rect x="467.9" y="932" width="1" height="2" fill="#9a9a9a"/><rect x="481.6" y="932" width="1" height="2" fill="#9a9a9a"/><rect x="495.2" y="932" width="1" height="2" fill="#9a9a9a"/><rect x="508.8" y="932" width="1" height="2" fill="#9a9a9a"/><rect x="522.4" y="932" width="1" height="2" fill="#9a9a9a"/><rect x="536.0" y="932" width="1" height="2" fill="#9a9a9a"/><rect x="549.7" y="932" width="1" height="2" fill="#9a9a9a"/><rect x="563.3" y="932" width="1" height="2" fill="#9a9a9a"/><rect x="304" y="930" width="1" height="4" fill="#9a9a9a"/><rect x="372" y="930" width="1" height="4" fill="#9a9a9a"/><rect x="440" y="930" width="1" height="4" fill="#9a9a9a"/><rect x="508" y="930" width="1" height="4" fill="#9a9a9a"/><rect x="577" y="804" width="5" height="1" fill="#9a9a9a"/><text x="584" y="807.9" class="ct">1</text><rect x="577" y="823" width="5" height="1" fill="#9a9a9a"/><text x="584" y="826.9" class="ct">1</text><rect x="577" y="842" width="5" height="1" fill="#9a9a9a"/><text x="584" y="845.9" class="ct">1</text><rect x="577" y="860" width="5" height="1" fill="#9a9a9a"/><text x="584" y="863.9" class="ct">1</text><rect x="577" y="878" width="5" height="1" fill="#9a9a9a"/><text x="584" y="881.9" class="ct">1</text><rect x="577" y="897" width="5" height="1" fill="#9a9a9a"/><text x="584" y="900.9" class="ct">1</text><rect x="577" y="916" width="5" height="1" fill="#9a9a9a"/><text x="584" y="919.9" class="ct">1</text><rect x="577" y="813" width="3" height="1" fill="#9a9a9a"/><rect x="577" y="832" width="3" height="1" fill="#9a9a9a"/><rect x="577" y="851" width="3" height="1" fill="#9a9a9a"/><rect x="577" y="870" width="3" height="1" fill="#9a9a9a"/><rect x="577" y="889" width="3" height="1" fill="#9a9a9a"/><rect x="577" y="908" width="3" height="1" fill="#9a9a9a"/><rect x="577" y="927" width="3" height="1" fill="#9a9a9a"/><text x="308.5" y="807.5" class="ct">ForexPros (GMT -5)</text><text x="310.5" y="911.8" class="ct">04,</text><text x="310.5" y="924.6" class="ct" letter-spacing="0.5">Jan</text><text x="376.5" y="911.8" class="ct">02,</text><text x="376.9" y="924.6" class="ct" letter-spacing="0.5">Mar</text><text x="445.5" y="911.8" class="ct">29,</text><text x="445.9" y="924.6" class="ct" letter-spacing="0.5">Apr</text><text x="513.5" y="911.8" class="ct">26,</text><text x="513.9" y="924.6" class="ct" letter-spacing="0.5">Jun</text></svg>
</body></html>
